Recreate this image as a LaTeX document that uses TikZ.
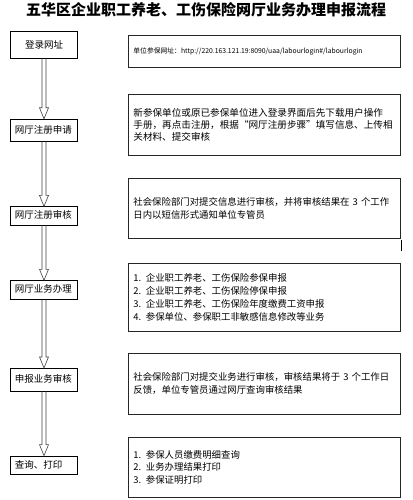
\documentclass[tikz,border=0pt]{standalone}
\usepackage{fontspec}
\newfontfamily\cjk{Noto Sans CJK SC}
\usetikzlibrary{calc}
\tikzset{
  lbox/.style={draw=black, line width=0.8pt, minimum width=67pt, inner sep=0pt},
  ltext/.style={font=\cjk\fontsize{9.5}{11}\selectfont, inner sep=0pt, anchor=west, xshift=4.5pt, yshift=0.8pt},
  rbox/.style={draw=black!85, line width=0.8pt, minimum width=272pt, text width=262pt, inner xsep=5pt, inner ysep=0pt, align=left, anchor=north west, font=\cjk\fontsize{9.4}{12.8}\selectfont},
  arrowline/.style={draw=black!75, line width=0.6pt, line join=miter},
}
\newcommand{\blkarrow}[2]{\draw[arrowline] ($(#1.south)+(-2,0)$) -- ($(#2.north)+(-2,-11)$) -- ($(#2.north)+(-4.5,-11)$) -- (#2.north) -- ($(#2.north)+(4.5,-11)$) -- ($(#2.north)+(2,-11)$) -- ($(#1.south)+(2,0)$);}
\begin{document}
\begin{tikzpicture}[x=1pt,y=-1pt]
\useasboundingbox (0,0) rectangle (412,500);
\node[font=\cjk\bfseries\fontsize{15}{17}\selectfont, inner sep=0pt] (title) at (206,10) {五华区企业职工养老、工伤保险网厅业务办理申报流程};

% left boxes
\node[lbox, minimum height=27pt, font=\cjk\fontsize{9.5}{11}\selectfont] (b1) at (44,44.5) {登录网址};
\node[lbox, minimum height=22pt] (b2) at (44,130.2) {};
\node[ltext] (t2) at (b2.west) {网厅注册申请};
\node[lbox, minimum height=18.3pt] (b3) at (44,215.9) {};
\node[ltext] (t3) at (b3.west) {网厅注册审核};
\node[lbox, minimum height=18.6pt] (b4) at (44,290) {};
\node[ltext] (t4) at (b4.west) {网厅业务办理};
\node[lbox, minimum height=22.7pt] (b5) at (44,379.7) {};
\node[ltext] (t5) at (b5.west) {申报业务审核};
\node[lbox, minimum height=18.3pt] (b6) at (44,465.2) {};
\node[ltext] (t6) at (b6.west) {查询、打印};

% arrows
\blkarrow{b1}{b2}
\blkarrow{b2}{b3}
\blkarrow{b3}{b4}
\blkarrow{b4}{b5}
\blkarrow{b5}{b6}

% right boxes
\node[rbox, minimum height=32pt, font=\cjk\fontsize{6.8}{8}\selectfont] (r1) at (128,35) {单位参保网址：http://220.163.121.19:8090/uaa/labourlogin\#/labourlogin};
\node[rbox, minimum height=61pt, font=\cjk\fontsize{9.6}{12}\selectfont] (r2) at (128,94) {新参保单位或原已参保单位进入登录界面后先下载用户操作\\手册，再点击注册，根据“网厅注册步骤”填写信息、上传相\\关材料、提交审核};
\node[rbox, minimum height=60pt] (r3) at (128,178) {社会保险部门对提交信息进行审核，并将审核结果在 3 个工作\\日内以短信形式通知单位专管员};
\node[rbox, minimum height=68pt] (r4) at (128,263) {1. 企业职工养老、工伤保险参保申报\\2. 企业职工养老、工伤保险停保申报\\3. 企业职工养老、工伤保险年度缴费工资申报\\4. 参保单位、参保职工非敏感信息修改等业务};
\node[rbox, minimum height=61pt] (r5) at (128,353) {社会保险部门对提交业务进行审核，审核结果将于 3 个工作日\\反馈，单位专管员通过网厅查询审核结果};
\node[rbox, minimum height=60pt] (r6) at (128,437) {1. 参保人员缴费明细查询\\2. 业务办理结果打印\\3. 参保证明打印};

% stray mark
\draw[line width=1pt] (401.5,240) -- (401.5,251);
\end{tikzpicture}
\end{document}
